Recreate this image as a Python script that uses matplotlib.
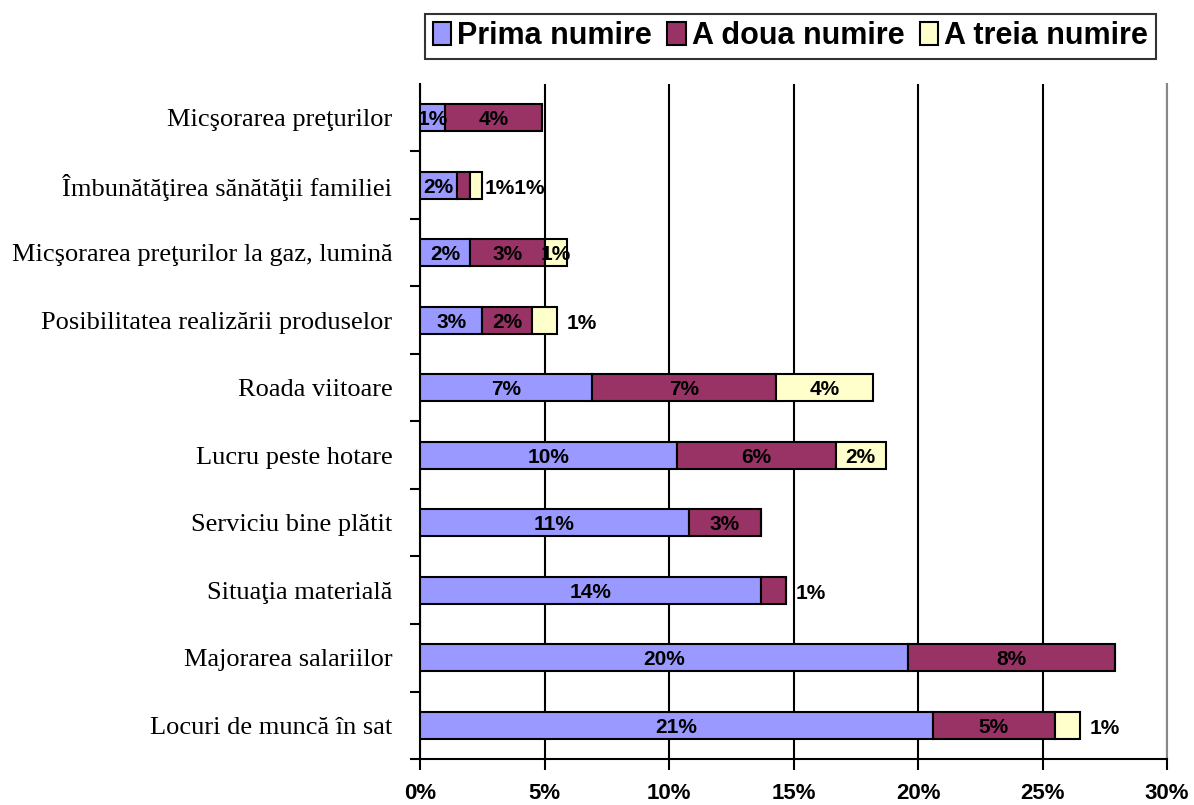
import matplotlib
matplotlib.use("Agg")
from matplotlib import pyplot as plt
from matplotlib.patches import Patch

# data, top to bottom
categories = ['Micşorarea preţurilor',
              'Îmbunătăţirea sănătăţii familiei',
              'Micşorarea preţurilor la gaz, lumină',
              'Posibilitatea realizării produselor',
              'Roada viitoare',
              'Lucru peste hotare',
              'Serviciu bine plătit',
              'Situaţia materială',
              'Majorarea salariilor',
              'Locuri de muncă în sat']
prima = [1.0, 1.5, 2.0, 2.5, 6.9, 10.3, 10.8, 13.7, 19.6, 20.6]
a_doua = [3.9, 0.5, 3.0, 2.0, 7.4, 6.4, 2.9, 1.0, 8.3, 4.9]
a_treia = [0.0, 0.5, 0.9, 1.0, 3.9, 2.0, 0.0, 0.0, 0.0, 1.0]
series_names = ['Prima numire', 'A doua numire', 'A treia numire']
colors = ['#9999FF', '#993366', '#FFFFCC']

# labels drawn to the right of the bar (row, series)
outside = {(1, 1), (1, 2), (3, 2), (7, 1), (9, 2)}

fig = plt.figure(figsize=(11.94, 8.05), dpi=100)
ax = fig.add_axes([0.3518, 0.057, 0.6256, 0.839])

y = list(range(len(categories)))
left = [0.0] * len(categories)
series = [prima, a_doua, a_treia]
for s, vals in enumerate(series):
    ax.barh(y, vals, left=left, height=0.4, color=colors[s],
            edgecolor='black', linewidth=1.5, zorder=3)
    for i, v in enumerate(vals):
        if v <= 0 or (i, s) in outside:
            continue
        ax.text(left[i] + v / 2, i + 0.03, '%d%%' % int(v + 0.5), ha='center', va='center',
                fontsize=15, fontweight='bold', family='Liberation Sans', zorder=4)
    left = [l + v for l, v in zip(left, vals)]

# outside labels, after the bar end
for i in range(len(categories)):
    labs = ['%d%%' % int(series[s][i] + 0.5) for s in range(3) if (i, s) in outside]
    if labs:
        gap = 0.1 if len(labs) > 1 else 0.4
        ax.text(left[i] + gap, i + 0.05, ''.join(labs), ha='left', va='center',
                fontsize=15, fontweight='bold', family='Liberation Sans')

ax.set_xlim(0, 30)
ax.set_ylim(len(categories) - 0.5, -0.5)
ax.set_xticks(range(0, 31, 5))
ax.set_xticklabels(['%d%%' % t for t in range(0, 31, 5)],
                   fontsize=16, fontweight='bold', family='Liberation Sans')
ax.tick_params(axis='x', length=8, width=1.5, pad=9, direction='out')
ax.set_yticks(y)
ax.set_yticklabels(categories, fontsize=19, family='Liberation Serif')
ax.tick_params(axis='y', which='major', length=0, pad=20)
ax.set_yticks([i + 0.5 for i in range(len(categories))], minor=True)
ax.tick_params(axis='y', which='minor', length=7, width=1.5, direction='out')

ax.grid(axis='x', color='black', linewidth=1.5, zorder=0)
ax.spines['top'].set_visible(False)
ax.spines['right'].set_color('#888888')
ax.spines['right'].set_linewidth(1.5)
ax.spines['left'].set_linewidth(1.5)
ax.spines['bottom'].set_linewidth(1.5)

handles = [Patch(facecolor=c, edgecolor='black', linewidth=1.5) for c in colors]
leg = fig.legend(handles, series_names, loc='center', bbox_to_anchor=(0.662, 0.955),
                 ncol=3, frameon=True, fancybox=False, edgecolor='black',
                 prop={'family': 'Liberation Sans', 'weight': 'bold', 'size': 22},
                 handlelength=0.6, handleheight=0.8, handletextpad=0.2,
                 columnspacing=0.5, borderpad=0.25)
leg.get_frame().set_linewidth(1.5)

fig.savefig('out.png', dpi=100)
